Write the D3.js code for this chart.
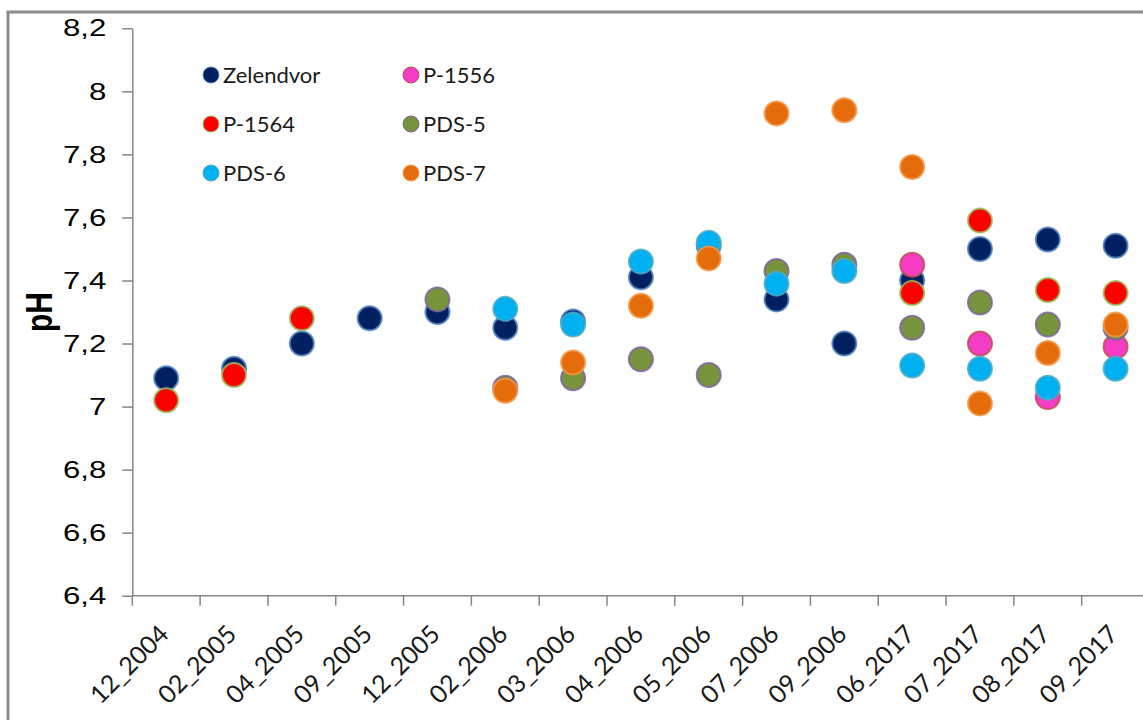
<!DOCTYPE html>
<html>
<head>
<meta charset="utf-8">
<script src="https://cdn.jsdelivr.net/npm/d3@7"></script>
<style>
	body { margin: 0; background: #fff; }
</style>
</head>
<body>
<script>
var categories = ["12_2004","02_2005","04_2005","09_2005","12_2005","02_2006","03_2006","04_2006","05_2006","07_2006","09_2006","06_2017","07_2017","08_2017","09_2017"];

var seriesNames = ["Zelendvor","P-1556","P-1564","PDS-5","PDS-6","PDS-7"];

var zelendvor = [7.09,7.12,7.20,7.28,7.30,7.25,7.27,7.41,7.51,7.34,7.20,7.40,7.50,7.53,7.51];
var p1556     = [null,null,null,null,null,null,null,null,null,null,null,7.45,7.20,7.03,7.19];
var p1564     = [7.02,7.10,7.28,null,null,null,null,null,null,null,null,7.36,7.59,7.37,7.36];
var pds5      = [null,null,null,null,7.34,7.06,7.09,7.15,7.10,7.43,7.45,7.25,7.33,7.26,7.25];
var pds6      = [null,null,null,null,null,7.31,7.26,7.46,7.52,7.39,7.43,7.13,7.12,7.06,7.12];
var pds7      = [null,null,null,null,null,7.05,7.14,7.32,7.47,7.93,7.94,7.76,7.01,7.17,7.26];

var yTicks = [6.4,6.6,6.8,7,7.2,7.4,7.6,7.8,8,8.2];

var fills   = ["#002060","#f43cc4","#ff0000","#77933c","#00b0f0","#e46c0a"];
var strokes = ["#4f81bd","#c0504d","#9bbb59","#8064a2","#4bacc6","#f79646"];

var allSeries = [zelendvor,p1556,p1564,pds5,pds6,pds7];

var w = 1143;
var h = 720;

var svg = d3.select("body")
			.append("svg")
			.attr("width",w)
			.attr("height",h);

// outer chart frame (runs off the right/bottom edge like the source)
svg.append("rect")
	.attr("x",8)
	.attr("y",12)
	.attr("width",1300)
	.attr("height",900)
	.attr("fill","none")
	.attr("stroke","#8c8c8c")
	.attr("stroke-width",3);

var x = d3.scaleBand()
			.domain(categories)
			.range([132.3,1149.5]);

var y = d3.scaleLinear()
			.domain([6.4,8.2])
			.range([595.7,28.3]);

// y axis
var yAxis = svg.append("g")
				.attr("transform","translate(132.3,0)")
				.call(d3.axisLeft(y)
					.tickValues(yTicks)
					.tickSize(10)
					.tickPadding(0)
					.tickSizeOuter(0)
					.tickFormat(function(d){return String(d).replace(".",",");}));

yAxis.select(".domain").attr("stroke","#868686").attr("stroke-width",1.5);
yAxis.selectAll(".tick line").attr("stroke","#868686").attr("stroke-width",1.5);
yAxis.selectAll(".tick text")
	.attr("x",0)
	.attr("fill","#000")
	.attr("font-family","'Liberation Sans', Arial, sans-serif")
	.attr("font-size",24)
	.attr("transform","translate(-26,0) scale(1.3,1)");

// x axis: ticks sit on category boundaries
var xAxisG = svg.append("g");

xAxisG.append("line")
	.attr("x1",132.3)
	.attr("x2",w)
	.attr("y1",y(6.4))
	.attr("y2",y(6.4))
	.attr("stroke","#868686")
	.attr("stroke-width",1.5);

var bounds = categories.map(function(c){return x(c);}).concat([x.range()[1]]);

xAxisG.selectAll("line.tk")
	.data(bounds)
	.enter()
	.append("line")
	.attr("class","tk")
	.attr("x1",function(d){return d;})
	.attr("x2",function(d){return d;})
	.attr("y1",y(6.4))
	.attr("y2",y(6.4)+10)
	.attr("stroke","#868686")
	.attr("stroke-width",1.5);

xAxisG.selectAll("text")
	.data(categories)
	.enter()
	.append("text")
	.attr("text-anchor","end")
	.attr("font-family","Lato, 'Open Sans', sans-serif")
	.attr("font-size",25)
	.attr("fill","#1a1a1a")
	.attr("transform",function(d){
		return "translate("+(x(d)+x.bandwidth()/2+4)+","+(y(6.4)+40)+") rotate(-45)";
	})
	.text(function(d){return d;});

// y axis title
svg.append("text")
	.attr("transform","translate(52,312) rotate(-90) scale(1,1.2)")
	.attr("text-anchor","middle")
	.attr("font-family","'Liberation Sans', Arial, sans-serif")
	.attr("font-weight","bold")
	.attr("font-size",30)
	.attr("fill","#000")
	.text("pH");

// points, series drawn in order so later ones sit on top
allSeries.forEach(function(vals,i){
	var pts = [];
	vals.forEach(function(v,j){
		if(v !== null){ pts.push({cat:categories[j],val:v}); }
	});
	svg.append("g")
		.selectAll("circle")
		.data(pts)
		.enter()
		.append("circle")
		.attr("cx",function(d){return x(d.cat)+x.bandwidth()/2;})
		.attr("cy",function(d){return y(d.val);})
		.attr("r",12)
		.attr("fill",fills[i])
		.attr("stroke",strokes[i])
		.attr("stroke-width",2)
		.attr("stroke-opacity",0.85);
});

// legend, two columns
var legend = svg.selectAll("g.leg")
				.data(seriesNames)
				.enter()
				.append("g")
				.attr("class","leg")
				.attr("transform",function(d,i){
					return "translate("+(211+(i%2)*200)+","+(75+Math.floor(i/2)*49)+")";
				});

legend.append("circle")
	.attr("r",8)
	.attr("fill",function(d,i){return fills[i];})
	.attr("stroke",function(d,i){return strokes[i];})
	.attr("stroke-width",1);

legend.append("text")
	.attr("x",12)
	.attr("dy","0.35em")
	.attr("font-family","Lato, 'Open Sans', sans-serif")
	.attr("font-size",22)
	.attr("fill","#1a1a1a")
	.text(function(d){return d;});
</script>
</body>
</html>
